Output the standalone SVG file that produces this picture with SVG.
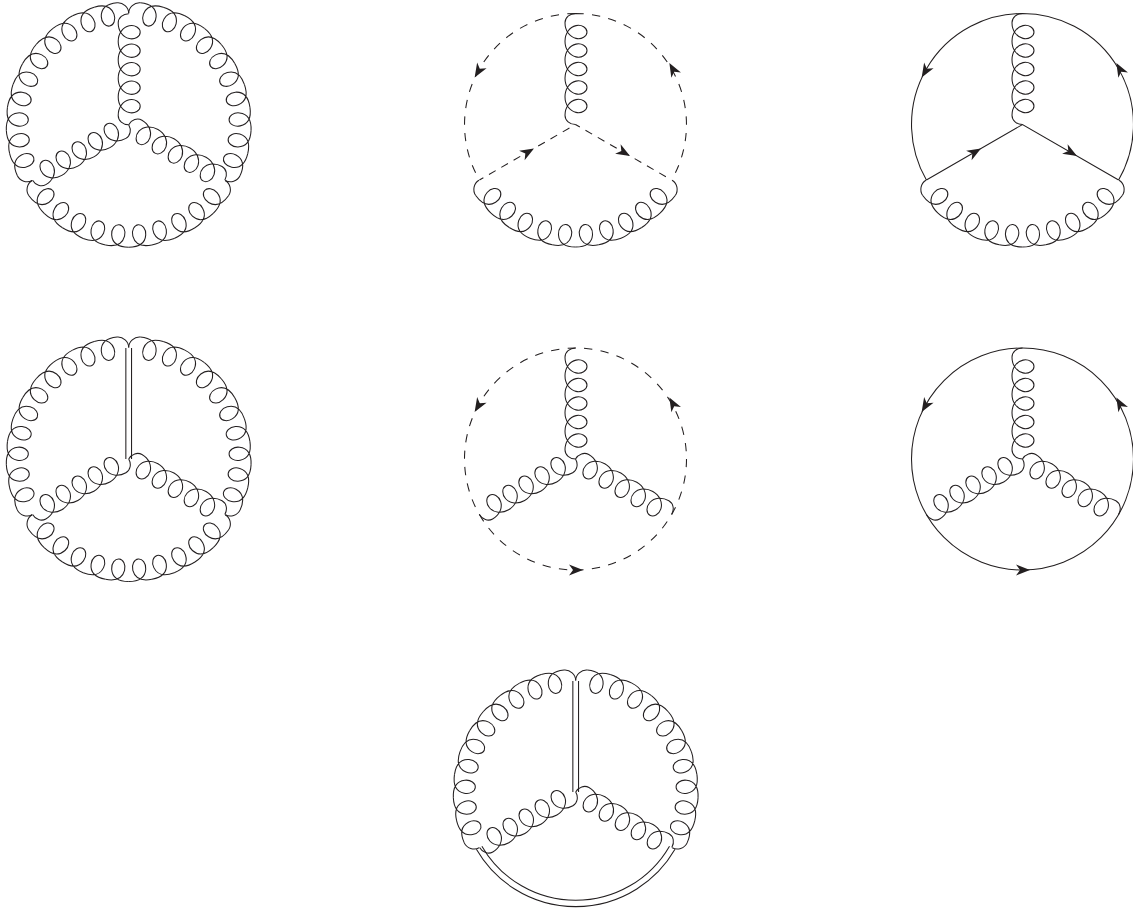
<svg xmlns="http://www.w3.org/2000/svg" width="1133" height="911" viewBox="0 0 1133 911">
<style>
.s{fill:none;stroke:#231f20;stroke-width:1.05}
.d{stroke-dasharray:8.3 8.3}
.e{stroke-dasharray:7.7 6.5}
.h{fill:#231f20;stroke:none}
</style>
<defs>
<path id="tile" d="M-11.644,-121.945C-1.1,-122.95 5.2,-119 6.483,-111.31C7.48,-105.3 3.973,-100.5 0,-100.5C-3.973,-100.5 -7.48,-105.3 -6.483,-111.31C-5.2,-119 1.1,-122.95 11.644,-121.945"/>
<path id="cap" d="M0,-111.5C0,-117.5 5.67,-122.5 11.644,-121.945"/>
<g id="arc">
<use href="#cap"/>
<use href="#tile" transform="rotate(10.909)"/>
<use href="#tile" transform="rotate(21.818)"/>
<use href="#tile" transform="rotate(32.727)"/>
<use href="#tile" transform="rotate(43.636)"/>
<use href="#tile" transform="rotate(54.545)"/>
<use href="#tile" transform="rotate(65.455)"/>
<use href="#tile" transform="rotate(76.364)"/>
<use href="#tile" transform="rotate(87.273)"/>
<use href="#tile" transform="rotate(98.182)"/>
<use href="#tile" transform="rotate(109.091)"/>
<use href="#cap" transform="rotate(120) scale(-1 1)"/>
</g>
<path id="arm" d="M0,-111C-5.8,-111 -10.5,-107 -10.5,-101.75c0,8 4.6,14.2 11,15.625c5.76,1.27 11,-2.157 11,-6.375c0,-4.218 -5.24,-7.645 -11,-6.375c-6.4,1.425 -11,7.625 -11,15.625c0,8 4.6,14.2 11,15.625c5.76,1.27 11,-2.157 11,-6.375c0,-4.218 -5.24,-7.645 -11,-6.375c-6.4,1.425 -11,7.625 -11,15.625c0,8 4.6,14.2 11,15.625c5.76,1.27 11,-2.157 11,-6.375c0,-4.218 -5.24,-7.645 -11,-6.375c-6.4,1.425 -11,7.625 -11,15.625c0,8 4.6,14.2 11,15.625c5.76,1.27 11,-2.157 11,-6.375c0,-4.218 -5.24,-7.645 -11,-6.375c-6.4,1.425 -11,7.625 -11,15.625c0,8 4.6,14.2 11,15.625c5.76,1.27 11,-2.157 11,-6.375c0,-4.218 -5.24,-7.645 -11,-6.375c-6.4,1.425 -11,7.625 -11,15.625C-10.5,-4 -5.8,0 0,0"/>
<path id="dbl" d="M-2.85,-111V0M2.85,-111V0"/>
<path id="head" d="M7.5,0L-6.5,-5.5L-2.5,0L-6.5,5.5Z"/>
</defs>
<g id="d1" class="s" transform="translate(128.7 124.7)">
<use href="#arc"/><use href="#arc" transform="rotate(120)"/><use href="#arc" transform="rotate(240)"/>
<use href="#arm"/><use href="#arm" transform="rotate(120)"/><use href="#arm" transform="rotate(240)"/>
</g>
<g id="d2" class="s" transform="translate(575.5 124.5)">
<use href="#arm"/>
<use href="#arc" transform="rotate(120)"/>
<path class="d" d="M0,-111A111,111 0 0 0 -96.1,55.5M0,-111A111,111 0 0 1 96.1,55.5"/>
<path class="e" stroke-dashoffset="7.2" d="M0,0L-96.1,55.5"/>
<path class="e" stroke-dashoffset="2.7" d="M0,0L96.1,55.5"/>
<use class="h" href="#head" transform="translate(-97 -53.5) rotate(121)"/>
<use class="h" href="#head" transform="translate(97.5 -55) rotate(-119)"/>
<use class="h" href="#head" transform="translate(-48 27.7) rotate(-30)"/>
<use class="h" href="#head" transform="translate(48 27.7) rotate(30)"/>
</g>
<g id="d3" class="s" transform="translate(1022.5 124.5)">
<use href="#arm"/>
<use href="#arc" transform="rotate(120)"/>
<path d="M0,-111A111,111 0 0 0 -96.1,55.5M96.1,55.5A111,111 0 0 0 0,-111M-96.1,55.5L0,0L96.1,55.5"/>
<use class="h" href="#head" transform="translate(-97 -53.5) rotate(121)"/>
<use class="h" href="#head" transform="translate(97.5 -55) rotate(-119)"/>
<use class="h" href="#head" transform="translate(-48 27.7) rotate(-30)"/>
<use class="h" href="#head" transform="translate(48 27.7) rotate(30)"/>
</g>
<g id="d4" class="s" transform="translate(128.7 459)">
<use href="#arc"/><use href="#arc" transform="rotate(120)"/><use href="#arc" transform="rotate(240)"/>
<use href="#dbl"/><use href="#arm" transform="rotate(120)"/><use href="#arm" transform="rotate(240)"/>
</g>
<g id="d5" class="s" transform="translate(575.5 459)">
<circle class="d" r="111"/>
<use href="#arm"/><use href="#arm" transform="rotate(120)"/><use href="#arm" transform="rotate(240)"/>
<use class="h" href="#head" transform="translate(-97 -53.5) rotate(121)"/>
<use class="h" href="#head" transform="translate(97.5 -55) rotate(-119)"/>
<use class="h" href="#head" transform="translate(0 111)"/>
</g>
<g id="d6" class="s" transform="translate(1022.5 459)">
<circle r="111"/>
<use href="#arm"/><use href="#arm" transform="rotate(120)"/><use href="#arm" transform="rotate(240)"/>
<use class="h" href="#head" transform="translate(-97 -53.5) rotate(121)"/>
<use class="h" href="#head" transform="translate(97.5 -55) rotate(-119)"/>
<use class="h" href="#head" transform="translate(0 111)"/>
</g>
<g id="d7" class="s" transform="translate(575.7 792)">
<use href="#arc"/><use href="#arc" transform="rotate(240)"/>
<use href="#dbl"/><use href="#arm" transform="rotate(120)"/><use href="#arm" transform="rotate(240)"/>
<path d="M-93.8,54.15A108.3,108.3 0 0 0 93.8,54.15M-99.3,57.35A114.7,114.7 0 0 0 99.3,57.35"/>
</g>
</svg>
